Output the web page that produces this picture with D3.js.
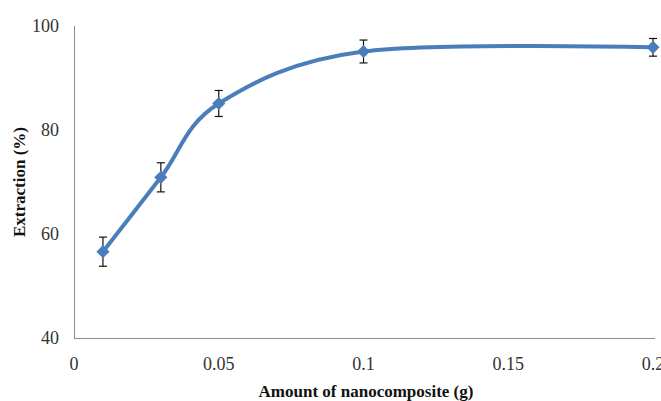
<!DOCTYPE html>
<html>
<head>
<meta charset="utf-8">
<script src="https://cdn.jsdelivr.net/npm/d3@7"></script>
<style>
  html, body { margin: 0; padding: 0; background: #fff; }
</style>
</head>
<body>
<div id="chart"></div>
<script>
// amount of nanocomposite (g) vs extraction (%)
var amounts = [0.01, 0.03, 0.05, 0.1, 0.2];
var extraction = [56.6, 70.9, 85.1, 95.1, 95.9];
var errors = [2.8, 2.8, 2.5, 2.2, 1.7];
var xTicks = [0, 0.05, 0.1, 0.15, 0.2];
var xTickLabels = ["0", "0.05", "0.1", "0.15", "0.2"];
var yTicks = [40, 60, 80, 100];

var W = 661, H = 401;
var x0 = 74, x1 = 653, yTop = 26, yBot = 338;
var FONT = "'Liberation Serif'";

var svg = d3.select("#chart").append("svg").attr("width", W).attr("height", H);
var x = d3.scaleLinear().domain([0, 0.2]).range([x0, x1]);
var y = d3.scaleLinear().domain([40, 100]).range([yBot, yTop]);

function txt(sel, size, bold) {
  return sel.style("font-family", FONT).style("font-size", size + "px")
    .style("font-weight", bold ? "bold" : "normal").style("fill", bold ? "#111" : "#333");
}

// axes: plain lines, no tick marks
svg.append("line").attr("x1", x0 + 0.5).attr("x2", x0 + 0.5).attr("y1", yTop).attr("y2", yBot)
  .attr("stroke", "#8c8c8c").attr("stroke-width", 1);
svg.append("line").attr("x1", x0).attr("x2", x1 + 2).attr("y1", yBot + 0.5).attr("y2", yBot + 0.5)
  .attr("stroke", "#8c8c8c").attr("stroke-width", 1);

txt(svg.selectAll(".ylbl").data(yTicks).enter().append("text"), 18)
  .attr("x", 59).attr("y", function (d) { return y(d); })
  .attr("dy", "0.35em").attr("text-anchor", "end").text(function (d) { return d; });

txt(svg.selectAll(".xlbl").data(xTicks).enter().append("text"), 18)
  .attr("x", function (d) { return x(d); }).attr("y", yBot + 26)
  .attr("dy", "0.35em").attr("text-anchor", "middle")
  .text(function (d, i) { return xTickLabels[i]; });

txt(svg.append("text"), 17, true)
  .attr("transform", "translate(25," + ((yTop + yBot) / 2) + ") rotate(-90)")
  .attr("text-anchor", "middle").text("Extraction (%)");
txt(svg.append("text"), 17, true)
  .attr("x", 366).attr("y", 397)
  .attr("text-anchor", "middle").text("Amount of nanocomposite (g)");

var pts = amounts.map(function (a, i) { return { a: a, v: extraction[i], e: errors[i] }; });

// smoothed line, Excel style
var line = d3.line().x(function (d) { return x(d.a); }).y(function (d) { return y(d.v); })
  .curve(d3.curveCardinal.tension(0));
svg.append("path").datum(pts).attr("d", line).attr("fill", "none")
  .attr("stroke", "#4a7ebb").attr("stroke-width", 4).attr("stroke-linecap", "round");

// error bars
var eb = svg.selectAll(".eb").data(pts).enter().append("g").attr("stroke", "#111").attr("stroke-width", 1.2);
eb.append("line").attr("x1", function (d) { return x(d.a); }).attr("x2", function (d) { return x(d.a); })
  .attr("y1", function (d) { return y(d.v + d.e); }).attr("y2", function (d) { return y(d.v - d.e); });
eb.append("line").attr("x1", function (d) { return x(d.a) - 4; }).attr("x2", function (d) { return x(d.a) + 4; })
  .attr("y1", function (d) { return y(d.v + d.e); }).attr("y2", function (d) { return y(d.v + d.e); });
eb.append("line").attr("x1", function (d) { return x(d.a) - 4; }).attr("x2", function (d) { return x(d.a) + 4; })
  .attr("y1", function (d) { return y(d.v - d.e); }).attr("y2", function (d) { return y(d.v - d.e); });

// diamond markers
var diamond = d3.symbol().type(d3.symbolDiamond2).size(110);
svg.selectAll(".mk").data(pts).enter().append("path")
  .attr("d", diamond)
  .attr("transform", function (d) { return "translate(" + x(d.a) + "," + y(d.v) + ")"; })
  .attr("fill", "#4a7ebb");
</script>
</body>
</html>
